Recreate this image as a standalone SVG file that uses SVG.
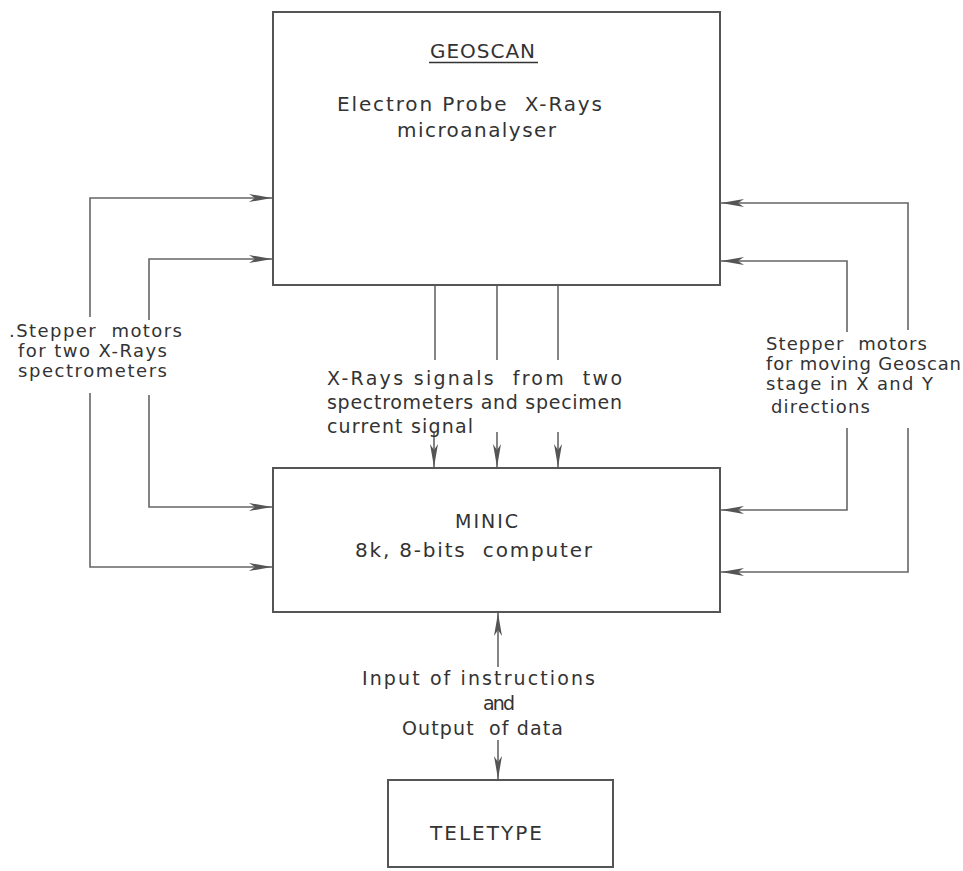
<svg xmlns="http://www.w3.org/2000/svg" width="963" height="871" viewBox="0 0 963 871">
<defs>
<style>
.box{fill:#fff;stroke:#555;stroke-width:2}
.ln{fill:none;stroke:#666;stroke-width:1.6}
.t{font-family:"DejaVu Sans","Liberation Sans",sans-serif;fill:#333}
</style>
<marker id="ah" markerUnits="userSpaceOnUse" markerWidth="24" markerHeight="10" refX="23" refY="5" orient="auto">
<path d="M0,1 L23,5 L0,9 L6,5 z" fill="#555"/>
</marker>
</defs>
<rect width="963" height="871" fill="#fff"/>
<g id="connectors">
<!-- left -->
<path class="ln" d="M90,317 V198 H272" marker-end="url(#ah)"/>
<path class="ln" d="M90,393 V567 H272" marker-end="url(#ah)"/>
<path class="ln" d="M149,320 V259 H272" marker-end="url(#ah)"/>
<path class="ln" d="M149,395 V507 H272" marker-end="url(#ah)"/>
<!-- right -->
<path class="ln" d="M908,330 V203 H721" marker-end="url(#ah)"/>
<path class="ln" d="M908,428 V572 H721" marker-end="url(#ah)"/>
<path class="ln" d="M847,332 V261 H721" marker-end="url(#ah)"/>
<path class="ln" d="M847,428 V510 H721" marker-end="url(#ah)"/>
<!-- middle -->
<path class="ln" d="M435,286 V360"/>
<path class="ln" d="M497,286 V360"/>
<path class="ln" d="M558,286 V360"/>
<path class="ln" d="M434,432 V467" marker-end="url(#ah)"/>
<path class="ln" d="M497,432 V467" marker-end="url(#ah)"/>
<path class="ln" d="M558,432 V467" marker-end="url(#ah)"/>
<!-- bottom -->
<path class="ln" d="M498,667 V613" marker-end="url(#ah)"/>
<path class="ln" d="M498,740 V779" marker-end="url(#ah)"/>
</g>
<g id="geoscan">
<rect class="box" x="273" y="12" width="447" height="273"/>
<text class="t" x="430" y="58" font-size="20" textLength="105" lengthAdjust="spacing">GEOSCAN</text>
<line x1="429" y1="62.5" x2="538" y2="62.5" stroke="#333" stroke-width="1.3"/>
<text class="t" x="337" y="111" font-size="20" textLength="265" lengthAdjust="spacing" xml:space="preserve">Electron Probe  X-Rays</text>
<text class="t" x="397" y="137" font-size="20" textLength="159" lengthAdjust="spacing">microanalyser</text>
</g>
<g id="minic">
<rect class="box" x="273" y="468" width="447" height="144"/>
<text class="t" x="455" y="528" font-size="19" textLength="63" lengthAdjust="spacing">MINIC</text>
<text class="t" x="355" y="557" font-size="20" textLength="237" lengthAdjust="spacing" xml:space="preserve">8k, 8-bits  computer</text>
</g>
<g id="teletype">
<rect class="box" x="388" y="780" width="225" height="87"/>
<text class="t" x="430" y="840" font-size="20" textLength="112" lengthAdjust="spacing">TELETYPE</text>
</g>
<g id="label-left">
<text class="t" x="9" y="337" font-size="18" textLength="173" lengthAdjust="spacing" xml:space="preserve">.Stepper  motors</text>
<text class="t" x="18" y="357" font-size="18" textLength="149" lengthAdjust="spacing">for two X-Rays</text>
<text class="t" x="18" y="377" font-size="18" textLength="149" lengthAdjust="spacing">spectrometers</text>
</g>
<g id="label-right">
<text class="t" x="766" y="350" font-size="18" textLength="161" lengthAdjust="spacing" xml:space="preserve">Stepper  motors</text>
<text class="t" x="766" y="370" font-size="18" textLength="195" lengthAdjust="spacing">for moving Geoscan</text>
<text class="t" x="766" y="390" font-size="18" textLength="167" lengthAdjust="spacing">stage in X and Y</text>
<text class="t" x="771" y="413" font-size="18" textLength="99" lengthAdjust="spacing">directions</text>
</g>
<g id="label-middle">
<text class="t" x="327" y="385" font-size="19" textLength="295" lengthAdjust="spacing" xml:space="preserve">X-Rays signals  from  two</text>
<text class="t" x="327" y="409" font-size="19" textLength="295" lengthAdjust="spacing">spectrometers and specimen</text>
<text class="t" x="327" y="433" font-size="19" textLength="146" lengthAdjust="spacing">current signal</text>
</g>
<g id="label-bottom">
<text class="t" x="362" y="685" font-size="19" textLength="233" lengthAdjust="spacing">Input of instructions</text>
<text class="t" x="483" y="710" font-size="19" textLength="32" lengthAdjust="spacing">and</text>
<text class="t" x="402" y="735" font-size="19" textLength="161" lengthAdjust="spacing" xml:space="preserve">Output  of data</text>
</g>
</svg>
